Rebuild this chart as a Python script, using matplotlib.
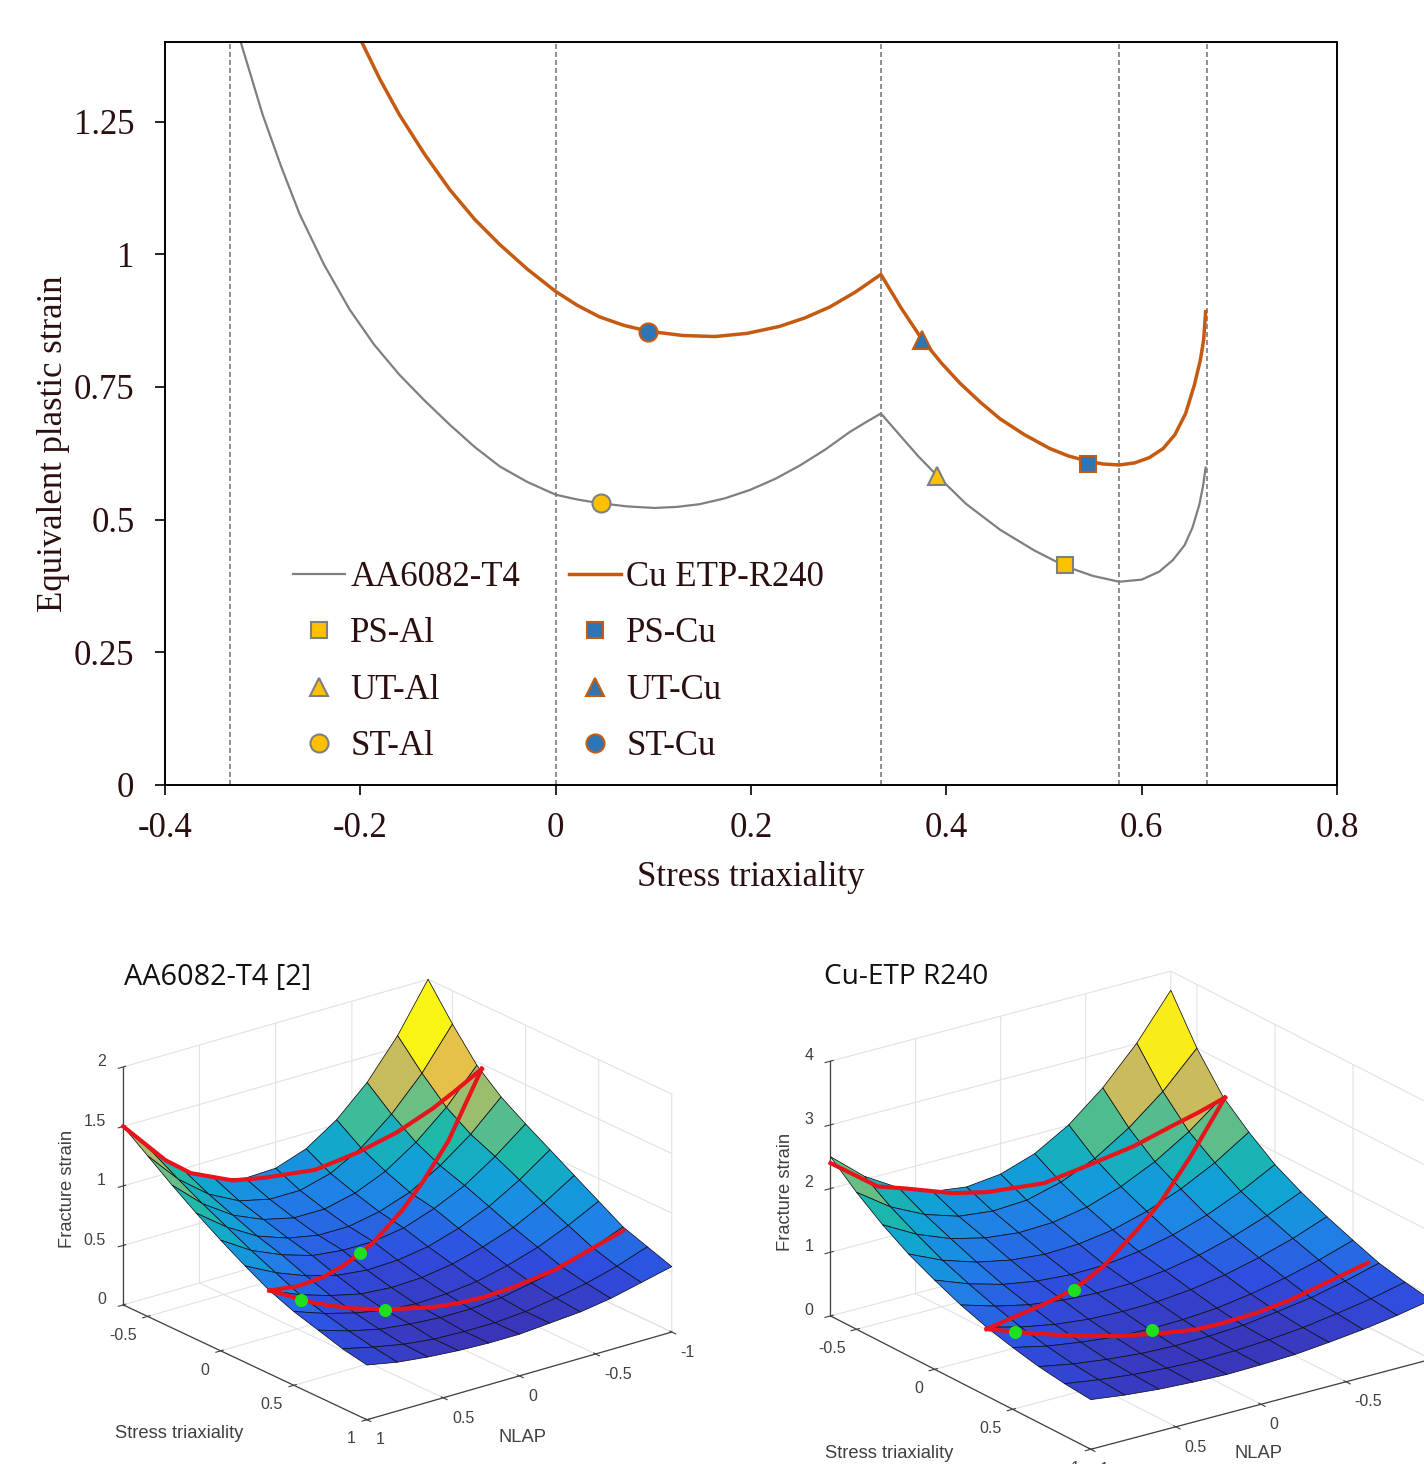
import numpy as np
import matplotlib
matplotlib.use("Agg")
import matplotlib.pyplot as plt
from matplotlib.colors import LinearSegmentedColormap
from matplotlib.lines import Line2D

plt.rcParams['axes.unicode_minus'] = False

# ---------- top chart data ----------
al_eta = [-0.3225,-0.311,-0.300,-0.281,-0.262,-0.237,-0.211,-0.186,-0.160,-0.134,-0.1085,-0.083,-0.057,-0.029,0.0,
          0.022,0.045,0.073,0.101,0.124,0.147,0.173,0.199,0.225,0.25,0.276,0.301,0.318,0.333,
          0.352,0.371,0.39,0.42,0.455,0.49,0.522,0.55,0.577,0.6,0.618,0.632,0.644,0.652,0.659,0.663,0.6655]
al_strain = [1.40,1.33,1.263,1.165,1.075,0.98,0.896,0.83,0.773,0.724,0.679,0.637,0.600,0.571,0.547,
             0.538,0.531,0.525,0.522,0.524,0.529,0.540,0.556,0.577,0.602,0.632,0.665,0.684,0.70,
             0.66,0.62,0.584,0.53,0.481,0.442,0.412,0.394,0.383,0.387,0.402,0.424,0.452,0.485,0.528,0.565,0.598]
cu_eta = [-0.1986,-0.18,-0.16,-0.134,-0.1085,-0.083,-0.057,-0.029,0.0,0.022,0.045,0.07,0.095,0.13,0.163,0.196,
          0.229,0.255,0.281,0.307,0.333,0.354,0.375,0.395,0.414,0.435,0.455,0.48,0.506,0.525,0.545,0.56,0.577,
          0.593,0.608,0.622,0.634,0.645,0.654,0.66,0.6635,0.6655]
cu_strain = [1.40,1.33,1.263,1.188,1.122,1.066,1.018,0.972,0.93,0.904,0.882,0.866,0.855,0.847,0.845,0.851,
             0.864,0.880,0.901,0.929,0.962,0.898,0.84,0.795,0.757,0.721,0.690,0.660,0.634,0.620,0.610,0.605,0.603,
             0.607,0.617,0.634,0.66,0.70,0.754,0.80,0.839,0.892]
guide_eta = [-1/3, 0, 1/3, 0.577, 2/3]
al_points = {'PS-Al': (0.522, 0.415), 'UT-Al': (0.39, 0.583), 'ST-Al': (0.046, 0.532)}
cu_points = {'PS-Cu': (0.545, 0.605), 'UT-Cu': (0.375, 0.839), 'ST-Cu': (0.095, 0.854)}
x_ticks = [-0.4, -0.2, 0, 0.2, 0.4, 0.6, 0.8]
x_ticklabels = ['-0.4', '-0.2', '0', '0.2', '0.4', '0.6', '0.8']
y_ticks = [0, 0.25, 0.5, 0.75, 1, 1.25]
y_ticklabels = ['0', '0.25', '0.5', '0.75', '1', '1.25']

# ---------- surface data, values ----------
surf_eta = [-0.667,-0.5,-0.333,-0.167,0,0.167,0.333,0.5,0.667,0.833,1]
surf_nlap = [-1,-0.8,-0.6,-0.4,-0.2,0,0.2,0.4,0.6,0.8,1]
al_surface = [
 [2.00,1.60,1.28,1.04,0.87,0.78,0.77,0.84,0.98,1.20,1.50],
 [1.72,1.38,1.11,0.90,0.76,0.69,0.69,0.75,0.88,1.08,1.35],
 [1.47,1.19,0.97,0.80,0.69,0.63,0.63,0.69,0.80,0.97,1.20],
 [1.30,1.06,0.87,0.72,0.63,0.58,0.58,0.63,0.72,0.87,1.06],
 [1.17,0.97,0.80,0.68,0.59,0.55,0.55,0.58,0.66,0.77,0.93],
 [1.05,0.87,0.72,0.61,0.53,0.49,0.48,0.51,0.58,0.68,0.81],
 [0.93,0.77,0.64,0.55,0.48,0.44,0.43,0.45,0.51,0.59,0.70],
 [0.81,0.68,0.57,0.49,0.43,0.40,0.39,0.41,0.46,0.53,0.62],
 [0.69,0.59,0.50,0.44,0.39,0.37,0.37,0.39,0.42,0.48,0.56],
 [0.62,0.53,0.46,0.41,0.37,0.35,0.35,0.36,0.39,0.44,0.50],
 [0.55,0.49,0.43,0.39,0.37,0.35,0.35,0.36,0.38,0.41,0.46],
]
cu_surface = [
 [3.70,3.01,2.45,2.01,1.70,1.52,1.46,1.53,1.73,2.05,2.50],
 [3.00,2.46,2.03,1.69,1.46,1.32,1.29,1.35,1.52,1.78,2.15],
 [2.45,2.04,1.71,1.46,1.28,1.18,1.16,1.22,1.35,1.56,1.85],
 [2.10,1.76,1.49,1.28,1.13,1.05,1.03,1.08,1.19,1.36,1.60],
 [1.80,1.52,1.29,1.12,1.00,0.93,0.92,0.96,1.05,1.20,1.40],
 [1.58,1.35,1.16,1.01,0.91,0.85,0.84,0.87,0.94,1.06,1.22],
 [1.40,1.20,1.04,0.91,0.82,0.77,0.76,0.78,0.84,0.94,1.08],
 [1.24,1.07,0.93,0.82,0.74,0.70,0.69,0.71,0.77,0.85,0.97],
 [1.09,0.95,0.83,0.75,0.68,0.65,0.64,0.66,0.71,0.78,0.88],
 [1.00,0.88,0.79,0.71,0.66,0.63,0.62,0.64,0.68,0.74,0.82],
 [0.93,0.83,0.75,0.69,0.64,0.62,0.61,0.63,0.66,0.71,0.78],
]
al_path_eta = [[-0.667,-0.66,-0.65,-0.625,-0.6,-0.55,-0.5,-0.45,-0.4,-0.36,-0.3],
               [-0.3,-0.25,-0.167,-0.1,0,0.05,0.1,0.167,0.25,0.333],
               [0.333,0.4,0.45,0.5,0.55,0.577,0.6,0.625,0.65,0.667]]
al_path_nlap = [[1,0.729,0.573,0.321,0.139,-0.147,-0.38,-0.585,-0.772,-0.88,-1],
                [-1,-0.733,-0.482,-0.287,0,0.143,0.287,0.482,0.733,1],
                [1,0.772,0.585,0.38,0.147,0,-0.139,-0.321,-0.573,-1]]
al_path_z = [[1.50,1.12,0.96,0.82,0.79,0.78,0.87,0.99,1.15,1.28,1.46],
             [1.46,0.98,0.77,0.65,0.54,0.525,0.515,0.53,0.59,0.70],
             [0.70,0.55,0.465,0.41,0.37,0.365,0.375,0.41,0.48,0.66]]
cu_path_eta = [[-0.667,-0.66,-0.65,-0.625,-0.6,-0.55,-0.5,-0.45,-0.4,-0.36,-0.32],
               [-0.32,-0.25,-0.167,-0.1,0,0.05,0.1,0.167,0.25,0.333],
               [0.333,0.4,0.45,0.5,0.55,0.577,0.6,0.625,0.64,0.65]]
cu_path_nlap = [[1,0.729,0.573,0.321,0.139,-0.147,-0.38,-0.585,-0.772,-0.88,-1],
                [-1,-0.733,-0.482,-0.287,0,0.143,0.287,0.482,0.733,1],
                [1,0.772,0.585,0.38,0.147,0,-0.139,-0.321,-0.5,-0.95]]
cu_path_z = [[2.40,1.85,1.72,1.50,1.42,1.42,1.62,1.82,2.08,2.25,2.45],
             [2.45,1.80,1.37,1.17,0.93,0.88,0.86,0.90,0.98,1.05],
             [1.05,0.90,0.80,0.71,0.66,0.64,0.67,0.74,0.83,1.11]]
al_dots = ([0.85, 0.42, 0.13], [0.39, 0.522, 0.045], [0.60, 0.43, 0.53])
cu_dots = ([0.87, 0.224, 0.27], [0.375, 0.545, 0.095], [0.97, 0.76, 0.85])
parula = ['#3a35b8','#2f4ee0','#1f82e6','#10a4d4','#1fb8a8','#7cc07a','#d0bb5a','#fbc733','#f9fb0e']

W, H = 1424, 1464
TXT = '#2b0f0f'
fig = plt.figure(figsize=(W/100, H/100), dpi=100)
SERIF = 'Liberation Serif'

# ---------- top chart ----------
ax = fig.add_axes([165/W, 1-785/H, (1337-165)/W, (785-42)/H])
for e in guide_eta:
    ax.axvline(e, color='#7a7a7a', lw=1.2, ls=(0, (3, 1.8)), zorder=1)
GREY, ORANGE, GOLD, BLUE = '#7f7f7f', '#c55a11', '#ffc000', '#2e75b6'
ax.plot(al_eta, al_strain, color=GREY, lw=1.6, zorder=2)
ax.plot(cu_eta, cu_strain, color=ORANGE, lw=2.5, zorder=2)
mk = {'PS': ('s', 11.5), 'UT': ('^', 12.5), 'ST': ('o', 13)}
for k, (xx, yy) in al_points.items():
    m, s = mk[k[:2]]
    ax.plot([xx], [yy], m, ms=s, mfc=GOLD, mec=GREY, mew=1.5, zorder=3)
for k, (xx, yy) in cu_points.items():
    m, s = mk[k[:2]]
    ax.plot([xx], [yy], m, ms=s, mfc=BLUE, mec=ORANGE, mew=1.5, zorder=3)
ax.set_xlim(-0.4, 0.8)
ax.set_ylim(0, 1.4)
ax.set_xticks(x_ticks, x_ticklabels)
ax.set_yticks(y_ticks, y_ticklabels)
ax.tick_params(axis='x', direction='out', length=7, width=1.2, pad=12.5, labelsize=25, labelcolor=TXT, labelfontfamily=SERIF)
ax.tick_params(axis='y', direction='out', length=7, width=1.2, pad=15, labelsize=25, labelcolor=TXT, labelfontfamily=SERIF)
for s in ax.spines.values():
    s.set_linewidth(1.4)
fig.text(751/W, 1-877/H, 'Stress triaxiality', ha='center', va='center', fontsize=25, family=SERIF, color=TXT)
fig.text(54/W, 1-444/H, 'Equivalent plastic strain', ha='center', va='center', rotation=90, fontsize=25, family=SERIF, color=TXT)

handles = [
    Line2D([], [], color=GREY, lw=1.6),
    Line2D([], [], ls='', marker='s', ms=11.5, mfc=GOLD, mec=GREY, mew=1.5),
    Line2D([], [], ls='', marker='^', ms=12.5, mfc=GOLD, mec=GREY, mew=1.5),
    Line2D([], [], ls='', marker='o', ms=13, mfc=GOLD, mec=GREY, mew=1.5),
    Line2D([], [], color=ORANGE, lw=2.5),
    Line2D([], [], ls='', marker='s', ms=11.5, mfc=BLUE, mec=ORANGE, mew=1.5),
    Line2D([], [], ls='', marker='^', ms=12.5, mfc=BLUE, mec=ORANGE, mew=1.5),
    Line2D([], [], ls='', marker='o', ms=13, mfc=BLUE, mec=ORANGE, mew=1.5),
]
labels = ['AA6082-T4', 'PS-Al', 'UT-Al', 'ST-Al', 'Cu ETP-R240', 'PS-Cu', 'UT-Cu', 'ST-Cu']
leg = ax.legend(handles, labels, ncol=2, frameon=False, loc='lower left',
                bbox_to_anchor=((293-165)/(1337-165), (785-763.5)/(785-42)), borderaxespad=0, borderpad=0,
                handlelength=1.5, handletextpad=0.15, columnspacing=1.41, labelspacing=0.677,
                prop={'family': SERIF, 'size': 25})
for t in leg.get_texts():
    t.set_color(TXT)

# ---------- surfaces ----------
cmap = LinearSegmentedColormap.from_list('parula_like', parula)

def panel(size, center, aspect, elev, azim, z_table, zlim, zticks, p_eta, p_nlap, p_z, dots):
    cx, cy = center
    a3 = fig.add_axes([(cx-size/2)/W, 1-(cy+size/2)/H, size/W, size/H], projection='3d', computed_zorder=False)
    a3.patch.set_alpha(0)
    a3.set_proj_type('ortho')
    a3.set_box_aspect(aspect)
    a3.view_init(elev=elev, azim=azim)
    Xg, Yg = np.meshgrid(surf_nlap, surf_eta)
    Z = np.array(z_table)
    a3.plot_surface(Xg, Yg, Z, cmap=cmap, vmin=Z.min(), vmax=0.85*Z.max(), rstride=1, cstride=1,
                    edgecolor='#10101a', linewidth=0.55, shade=False, zorder=1)
    for pe, pn, pz in zip(p_eta, p_nlap, p_z):
        a3.plot(pn, pe, pz, color='#e8141c', lw=3, zorder=3)
    a3.scatter(dots[0], dots[1], dots[2], s=70, color='#1fe01f', depthshade=False, zorder=4)
    a3.set_xlim(-1, 1, view_margin=0)
    a3.set_ylim(-0.667, 1, view_margin=0)
    a3.set_zlim(zlim[0], zlim[1], view_margin=0)
    a3.set_xticks([-1, -0.5, 0, 0.5, 1], ['-1', '-0.5', '0', '0.5', '1'])
    a3.set_yticks([-0.5, 0, 0.5, 1], ['-0.5', '0', '0.5', '1'])
    a3.set_zticks(zticks, [f'{v:g}' for v in zticks])
    a3.zaxis.set_ticks_position('lower')
    for axis in (a3.xaxis, a3.yaxis, a3.zaxis):
        axis.set_pane_color((1, 1, 1, 0))
        axis.pane.set_edgecolor('#d8d8d8')
        axis._axinfo['grid'].update(color='#e2e2e2', linewidth=0.8)
        axis.line.set_color('#404040')
        axis.line.set_linewidth(0.9)
    a3.tick_params(axis='x', labelsize=11.5, labelcolor='#404040', colors='#404040', pad=0)
    a3.tick_params(axis='y', labelsize=11.5, labelcolor='#404040', colors='#404040', pad=0)
    a3.tick_params(axis='z', labelsize=11.5, labelcolor='#404040', colors='#404040', pad=-1)
    for lab in a3.get_xticklabels():
        lab.set_family('Liberation Sans')
        lab.set_ha('left')
    for lab in a3.get_yticklabels():
        lab.set_family('Liberation Sans')
        lab.set_ha('right')
    for lab in a3.get_zticklabels():
        lab.set_family('Liberation Sans')
        lab.set_ha('right')
        lab.set_va('baseline')
    return a3

panel(592, (389.5, 1207.5), (387, 396, 256), 21.6, 52, al_surface, (0, 2), [0, 0.5, 1, 1.5, 2],
      al_path_eta, al_path_nlap, al_path_z, al_dots)
panel(651, (1122, 1219), (419, 446, 274), 21.6, 54.3, cu_surface, (0, 4), [0, 1, 2, 3, 4],
      cu_path_eta, cu_path_nlap, cu_path_z, cu_dots)

SANS = 'Liberation Sans'
fig.text(124/W, 1-977/H, 'AA6082-T4 [2]', fontsize=20.8, family='Open Sans', va='center', color='#111111')
fig.text(824/W, 1-977/H, 'Cu-ETP R240', fontsize=20.2, family='Open Sans', va='center', color='#111111')
for x, y, s, r in [(68, 1189, 'Fracture strain', 90), (179, 1433, 'Stress triaxiality', 0), (522, 1438, 'NLAP', 0),
                   (785, 1192, 'Fracture strain', 90), (889, 1454, 'Stress triaxiality', 0), (1258, 1453, 'NLAP', 0)]:
    fig.text(x/W, 1-y/H, s, fontsize=13.2, family=SANS, color='#404040', ha='center', va='center', rotation=r)

fig.savefig('out.png', dpi=100)
